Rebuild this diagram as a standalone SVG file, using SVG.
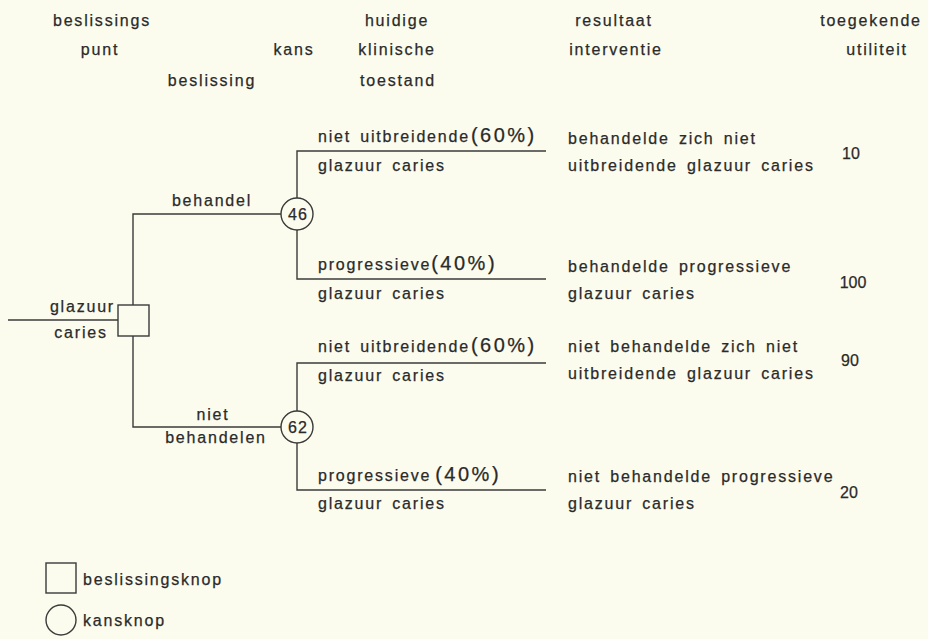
<svg xmlns="http://www.w3.org/2000/svg" width="928" height="639" viewBox="0 0 928 639">
<style>
.t{font-family:"Liberation Sans",Arial,sans-serif;font-size:16px;letter-spacing:1.8px;word-spacing:3px;fill:#2a2a2a;stroke:#2a2a2a;stroke-width:0.25}
.m{text-anchor:middle}
.e{text-anchor:end}
.p{font-size:20px;letter-spacing:2.5px}
.n{font-family:"Liberation Sans",Arial,sans-serif;font-size:16px;fill:#2a2a2a;stroke:#2a2a2a;stroke-width:0.25;text-anchor:middle}
.ln{fill:none;stroke:#3a3a3a;stroke-width:1.4}
.nd{fill:#fcfcee;stroke:#3a3a3a;stroke-width:1.4}
</style>
<rect width="928" height="639" fill="#fcfcee"/>
<g id="headers">
<text class="t m" x="102" y="26">beslissings</text>
<text class="t m" x="100" y="55">punt</text>
<text class="t m" x="212" y="86">beslissing</text>
<text class="t m" x="294" y="55">kans</text>
<text class="t m" x="397" y="26">huidige</text>
<text class="t m" x="397" y="55">klinische</text>
<text class="t m" x="398" y="86">toestand</text>
<text class="t m" x="614" y="26">resultaat</text>
<text class="t m" x="616" y="55">interventie</text>
<text class="t m" x="871" y="26">toegekende</text>
<text class="t m" x="877" y="55">utiliteit</text>
</g>
<g id="connectors">
<path class="ln" d="M8,320 H118"/>
<path class="ln" d="M133,305 V214 H281"/>
<path class="ln" d="M297,198 V151 H546"/>
<path class="ln" d="M297,230 V279 H546"/>
<path class="ln" d="M133,336 V427 H281"/>
<path class="ln" d="M297,411 V363 H546"/>
<path class="ln" d="M297,443 V490 H546"/>
</g>
<g id="decision">
<rect class="nd" x="118" y="305" width="31" height="31"/>
<text class="t e" x="115" y="312">glazuur</text>
<text class="t m" x="81" y="338">caries</text>
</g>
<g id="label-behandel"><text class="t m" x="212" y="206">behandel</text></g>
<g id="label-niet-behandelen">
<text class="t m" x="213" y="420">niet</text>
<text class="t m" x="216" y="443">behandelen</text>
</g>
<g id="chance46">
<circle class="nd" cx="297" cy="214" r="16"/>
<text class="t m" x="298" y="220" style="letter-spacing:1px">46</text>
</g>
<g id="chance62">
<circle class="nd" cx="297" cy="427" r="16"/>
<text class="t m" x="298" y="433" style="letter-spacing:1px">62</text>
</g>
<g id="branch1">
<text class="t" x="318" y="142">niet uitbreidende<tspan class="p" dx="1">(60%)</tspan></text>
<text class="t" x="318" y="171">glazuur caries</text>
</g>
<g id="branch2">
<text class="t" x="318" y="270">progressieve<tspan class="p" dx="0">(40%)</tspan></text>
<text class="t" x="318" y="299">glazuur caries</text>
</g>
<g id="branch3">
<text class="t" x="318" y="352">niet uitbreidende<tspan class="p" dx="1">(60%)</tspan></text>
<text class="t" x="318" y="381">glazuur caries</text>
</g>
<g id="branch4">
<text class="t" x="318" y="481">progressieve<tspan class="p" dx="4">(40%)</tspan></text>
<text class="t" x="318" y="509">glazuur caries</text>
</g>
<g id="outcome1">
<text class="t" x="568" y="144">behandelde zich niet</text>
<text class="t" x="568" y="171">uitbreidende glazuur caries</text>
<text class="n" x="851" y="159">10</text>
</g>
<g id="outcome2">
<text class="t" x="568" y="272">behandelde progressieve</text>
<text class="t" x="568" y="299">glazuur caries</text>
<text class="n" x="853" y="288">100</text>
</g>
<g id="outcome3">
<text class="t" x="568" y="352">niet behandelde zich niet</text>
<text class="t" x="568" y="379">uitbreidende glazuur caries</text>
<text class="n" x="850" y="366">90</text>
</g>
<g id="outcome4">
<text class="t" x="568" y="482">niet behandelde progressieve</text>
<text class="t" x="568" y="509">glazuur caries</text>
<text class="n" x="849" y="498">20</text>
</g>
<g id="legend">
<rect class="nd" x="46" y="563" width="30" height="30"/>
<text class="t" x="83" y="585">beslissingsknop</text>
<circle class="nd" cx="61" cy="620" r="15"/>
<text class="t" x="83" y="626">kansknop</text>
</g>
</svg>
